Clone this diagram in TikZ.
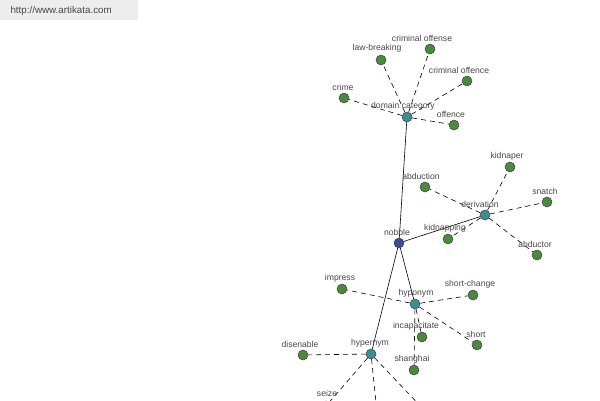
\documentclass[tikz,border=0pt]{standalone}
\usepackage{fontspec}
\setmainfont{Liberation Sans}
\definecolor{leafc}{HTML}{4B8A3E}
\definecolor{hubc}{HTML}{3A8F96}
\definecolor{rootc}{HTML}{3E4A9E}
\begin{document}
\begin{tikzpicture}[x=1pt,y=-1pt,
  leaf/.style={circle,draw=black!75,fill=leafc,minimum size=10pt,inner sep=0pt,line width=0.5pt},
  hub/.style={circle,draw=black!75,fill=hubc,minimum size=10pt,inner sep=0pt,line width=0.5pt},
  root/.style={circle,draw=black!75,fill=rootc,minimum size=10pt,inner sep=0pt,line width=0.5pt},
  lbl/.style={font=\fontsize{8.6}{9}\selectfont,text=black!72,inner sep=0pt},
  rel/.style={line width=0.6pt},
  dsh/.style={line width=0.6pt,dash pattern=on 5pt off 4pt}]
\useasboundingbox (0,0) rectangle (600,400);
\clip (0,0) rectangle (600,400);
\fill[black!7] (0,0) rectangle (138,20);
\node[font=\fontsize{9.8}{10}\selectfont,text=black!72,anchor=west] (url) at (7,11) {http://www.artikata.com};
% nodes
\node[root] (nobble) at (399,243) {};
\node[hub] (dc) at (407,117) {};
\node[hub] (der) at (485,215) {};
\node[hub] (hypo) at (415,304) {};
\node[hub] (hyper) at (371,354) {};
\node[leaf] (crime) at (344,98) {};
\node[leaf] (lawb) at (381,60) {};
\node[leaf] (coffense) at (430,49) {};
\node[leaf] (coffence) at (467,81) {};
\node[leaf] (offence) at (454,125) {};
\node[leaf] (abduction) at (425,187) {};
\node[leaf] (kidnaper) at (510,167) {};
\node[leaf] (snatch) at (547,202) {};
\node[leaf] (abductor) at (537,255) {};
\node[leaf] (kidnapping) at (448,239) {};
\node[leaf] (impress) at (342,289) {};
\node[leaf] (shortch) at (473,295) {};
\node[leaf] (incap) at (422,337) {};
\node[leaf] (short) at (477,345) {};
\node[leaf] (shanghai) at (414,370) {};
\node[leaf] (disenable) at (303,355) {};
\node[leaf] (seize) at (326,406) {};
\coordinate (down) at (377,412);
\coordinate (downr) at (426,412);
% edges
\draw[rel] (nobble) -- (dc);
\draw[rel] (nobble) -- (der);
\draw[rel] (nobble) -- (hypo);
\draw[rel] (nobble) -- (hyper);
\foreach \t in {crime,lawb,coffense,coffence,offence} \draw[dsh] (dc) -- (\t);
\foreach \t in {abduction,kidnaper,snatch,abductor,kidnapping} \draw[dsh] (der) -- (\t);
\foreach \t in {impress,shortch,incap,short,shanghai} \draw[dsh] (hypo) -- (\t);
\foreach \t in {disenable,seize,down,downr} \draw[dsh] (hyper) -- (\t);
% labels
\node[lbl] (l1) at (397,232) {nobble};
\node[lbl] (l2) at (403,106) {domain category};
\node[lbl] (l3) at (343,87) {crime};
\node[lbl] (l4) at (377,48) {law-breaking};
\node[lbl] (l5) at (422,38) {criminal offense};
\node[lbl] (l6) at (459,70) {criminal offence};
\node[lbl] (l7) at (451,114) {offence};
\node[lbl] (l8) at (480,204) {derivation};
\node[lbl] (l9) at (421,176) {abduction};
\node[lbl] (l10) at (507,156) {kidnaper};
\node[lbl] (l11) at (545,191) {snatch};
\node[lbl] (l12) at (535,244) {abductor};
\node[lbl] (l13) at (445,228) {kidnapping};
\node[lbl] (l14) at (416,293) {hyponym};
\node[lbl] (l15) at (340,278) {impress};
\node[lbl] (l16) at (470,284) {short-change};
\node[lbl] (l17) at (416,326) {incapacitate};
\node[lbl] (l18) at (476,334) {short};
\node[lbl] (l19) at (412,359) {shanghai};
\node[lbl] (l20) at (370,343) {hypernym};
\node[lbl] (l21) at (300,344) {disenable};
\node[lbl] (l22) at (327,393) {seize};
\end{tikzpicture}
\end{document}
